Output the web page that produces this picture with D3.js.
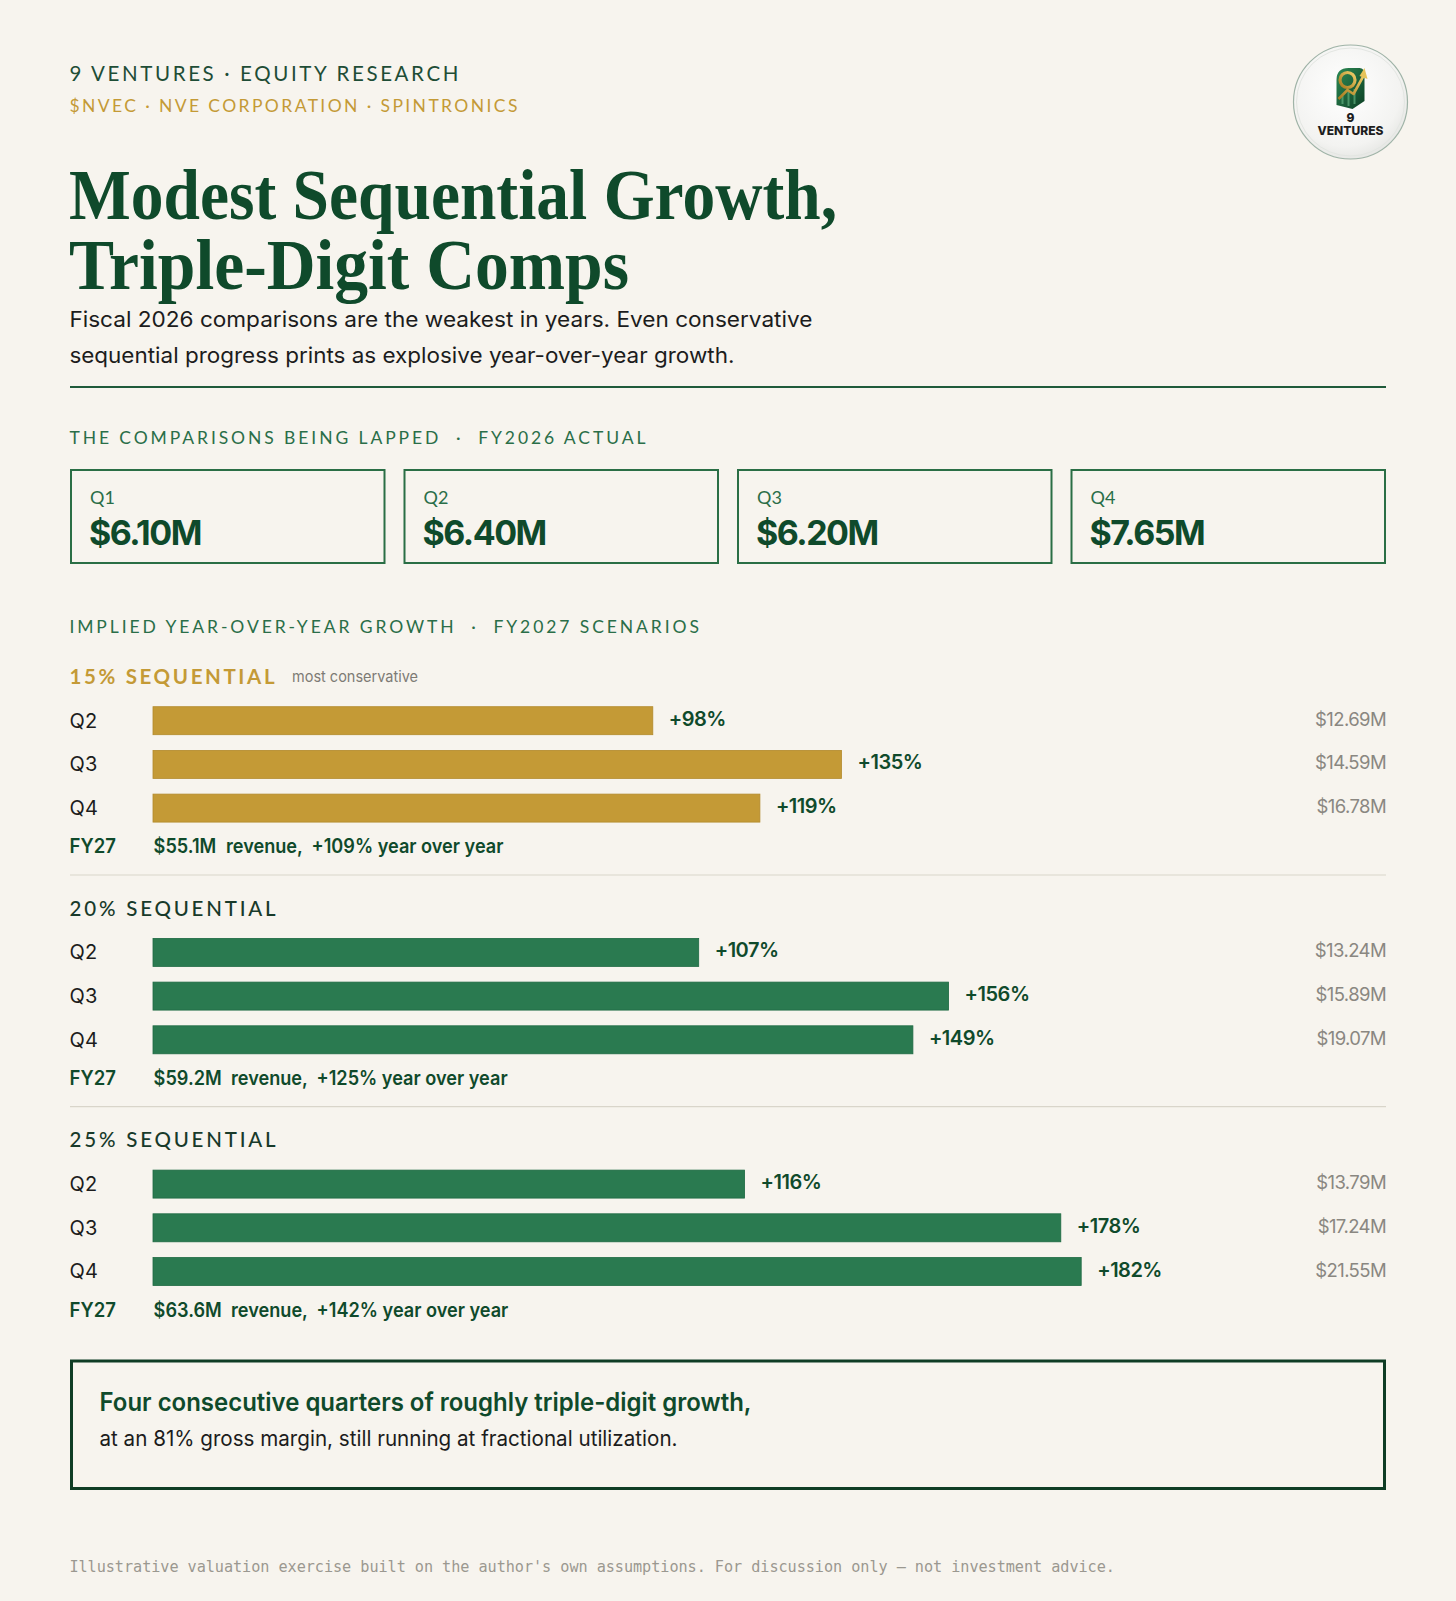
<!DOCTYPE html>
<html lang="en">
<head>
  <meta charset="UTF-8" />
  <title>Modest Sequential Growth, Triple-Digit Comps</title>
  <script src="https://d3js.org/d3.v7.min.js"></script>
  <style>
    html, body { margin: 0; padding: 0; background: #f7f4ee; }
    svg { display: block; }
  </style>
</head>
<body>
  <script>
    // FY2026 actual quarters
    const fy26Quarters = ["Q1", "Q2", "Q3", "Q4"];
    const fy26Revenue = [6.10, 6.40, 6.20, 7.65];

    // FY2027 scenarios
    const scenarioNames = ["15% SEQUENTIAL", "20% SEQUENTIAL", "25% SEQUENTIAL"];
    const quarters = ["Q2", "Q3", "Q4"];
    const growth15 = [98, 135, 119];
    const growth20 = [107, 156, 149];
    const growth25 = [116, 178, 182];
    const revenue15 = [12.69, 14.59, 16.78];
    const revenue20 = [13.24, 15.89, 19.07];
    const revenue25 = [13.79, 17.24, 21.55];
    const fyRevenue = [55.1, 59.2, 63.6];
    const fyGrowth = [109, 125, 142];

    const W = 1456, H = 1601;
    const L = 70, R = 1386;

    const SANS = "Inter, 'Noto Sans', sans-serif";
    const CAPS = "Lato, 'Noto Sans', sans-serif";
    const SERIF = "'Liberation Serif', 'DejaVu Serif', serif";
    const MONO = "'DejaVu Sans Mono', 'Liberation Mono', monospace";

    const DARK = "#0f4a2b", MID = "#2a6e48", GOLD = "#c49a36", BARGREEN = "#2a7a50";
    const SEP = "\u00a0\u00a0·\u00a0\u00a0";

    const svg = d3.select("body").append("svg").attr("width", W).attr("height", H);
    svg.append("rect").attr("width", W).attr("height", H).attr("fill", "#f7f4ee");

    // text helper: width => stretch to that width, k => squeeze to a condensed look
    function label(x, y, s, o) {
      const t = svg.append("text").attr("x", x).attr("y", y).text(s)
        .attr("font-family", o.f).attr("font-size", o.s)
        .attr("font-weight", o.w || 400).attr("fill", o.c)
        .attr("text-anchor", o.a || "start");
      if (o.width) {
        t.attr("textLength", o.width).attr("lengthAdjust", o.adj || "spacing");
      } else if (o.k) {
        const n = t.node().getComputedTextLength();
        t.attr("textLength", n * o.k).attr("lengthAdjust", "spacingAndGlyphs");
      }
      return t;
    }

    // header
    label(69.4, 80.7, "9 VENTURES · EQUITY RESEARCH", { f: CAPS, s: 20.5, c: "#1e4d36", width: 389 });
    label(69.4, 111.7, "$NVEC · NVE CORPORATION · SPINTRONICS", { f: CAPS, s: 17.5, c: GOLD, width: 448 });

    // two-line title as one text block
    const title = svg.append("text")
      .attr("font-family", SERIF).attr("font-size", 71).attr("font-weight", 700).attr("fill", DARK);
    [["Modest Sequential Growth,", 219, 768], ["Triple-Digit Comps", 289, 560]].forEach(([s, yy, w]) => {
      title.append("tspan").attr("x", 69).attr("y", yy).text(s)
        .attr("textLength", w).attr("lengthAdjust", "spacingAndGlyphs");
    });

    label(69.4, 327, "Fiscal 2026 comparisons are the weakest in years. Even conservative", { f: SANS, s: 21.5, c: "#1c1c1c", width: 743, adj: "spacingAndGlyphs" });
    label(69.4, 363, "sequential progress prints as explosive year-over-year growth.", { f: SANS, s: 21.5, c: "#1c1c1c", width: 665, adj: "spacingAndGlyphs" });

    svg.append("line").attr("x1", L).attr("x2", R).attr("y1", 387).attr("y2", 387)
      .attr("stroke", "#1f5a3a").attr("stroke-width", 2);

    // FY2026 cards
    label(69.4, 444.3, "THE COMPARISONS BEING LAPPED" + SEP + "FY2026 ACTUAL", { f: CAPS, s: 17.5, c: MID, width: 576 });

    const cardX = d3.scaleBand().domain(fy26Quarters).range([L, R]).paddingInner(18 / 333.5);
    const cards = svg.append("g").selectAll("g").data(fy26Quarters).join("g")
      .attr("transform", d => `translate(${cardX(d)},469)`);
    cards.append("rect").attr("x", 1).attr("y", 1)
      .attr("width", cardX.bandwidth() - 2).attr("height", 93)
      .attr("fill", "none").attr("stroke", "#2a6e45").attr("stroke-width", 2);
    cards.append("text").attr("x", 20).attr("y", 35).text(d => d)
      .attr("font-family", CAPS).attr("font-size", 18).attr("fill", MID);
    cards.append("text").attr("x", 19).attr("y", 76)
      .text((d, i) => "$" + d3.format(".2f")(fy26Revenue[i]) + "M")
      .attr("font-family", SANS).attr("font-size", 34).attr("font-weight", 700)
      .attr("fill", DARK).attr("letter-spacing", -1.5);

    // scenarios
    label(69.4, 632.7, "IMPLIED YEAR-OVER-YEAR GROWTH" + SEP + "FY2027 SCENARIOS", { f: CAPS, s: 17.5, c: MID, width: 629.5 });

    const x = d3.scaleLinear().domain([0, 200]).range([153, 1173]);
    const growth = [growth15, growth20, growth25];
    const revenue = [revenue15, revenue20, revenue25];
    const barColor = [GOLD, BARGREEN, BARGREEN];
    const barEdge = ["#b38a2c", "#1f6a43", "#1f6a43"];
    const money = v => "$" + d3.format(".2f")(v) + "M";

    scenarioNames.forEach((name, si) => {
      const hy = 684 + si * 231.7;
      if (si === 0) {
        label(69.6, hy, name, { f: CAPS, s: 20.5, w: 700, c: GOLD, width: 205 });
        label(292, hy - 2, "most conservative", { f: SANS, s: 15, c: "#7d7b75", width: 126, adj: "spacingAndGlyphs" });
      } else {
        label(69.6, hy, name, { f: CAPS, s: 20.5, w: 500, c: "#183a2a", width: 206 });
      }

      const y = d3.scaleBand().domain(quarters)
        .range([hy + 22.7, hy + 22.7 + 3 * 43.7 - 15.7])
        .paddingInner(15.7 / 43.7).paddingOuter(0);

      const rows = quarters.map((q, i) => ({ q, g: growth[si][i], rev: revenue[si][i] }));
      const g = svg.append("g");

      g.selectAll("text.q").data(rows).join("text").attr("class", "q")
        .attr("x", 69.6).attr("y", d => y(d.q) + 20.8).text(d => d.q)
        .attr("font-family", SANS).attr("font-size", 20).attr("fill", "#1c1c1c");

      g.selectAll("rect").data(rows).join("rect")
        .attr("x", x(0)).attr("y", d => y(d.q))
        .attr("width", d => x(d.g) - x(0)).attr("height", y.bandwidth())
        .attr("fill", barColor[si]).attr("stroke", barEdge[si]).attr("stroke-width", 0.8);

      g.selectAll("text.pct").data(rows).join("text").attr("class", "pct")
        .attr("x", d => x(d.g) + 16).attr("y", d => y(d.q) + 19).text(d => "+" + d.g + "%")
        .attr("font-family", SANS).attr("font-size", 20).attr("font-weight", 600)
        .attr("fill", DARK).attr("letter-spacing", -0.5);

      g.selectAll("text.rev").data(rows).join("text").attr("class", "rev")
        .attr("x", R).attr("y", d => y(d.q) + 19).attr("text-anchor", "end")
        .text(d => money(d.rev))
        .attr("font-family", SANS).attr("font-size", 18.5).attr("fill", "#8a8781")
        .attr("letter-spacing", -0.6);

      // FY27 summary line
      const fy = hy + 169.3;
      label(69.6, fy, "FY27", { f: SANS, s: 19.5, w: 600, c: DARK, k: 0.95 });
      const parts = ["$" + fyRevenue[si] + "M", "revenue,", "+" + fyGrowth[si] + "% year over year"];
      let cx = 153.6;
      parts.forEach(p => {
        const t = label(cx, fy, p, { f: SANS, s: 19.5, w: 600, c: DARK, k: 0.93 });
        cx += t.node().getComputedTextLength() * 0.93 + 14;
      });

      if (si < 2) {
        svg.append("line").attr("x1", L).attr("x2", R)
          .attr("y1", hy + 191).attr("y2", hy + 191)
          .attr("stroke", "#d9d5ca").attr("stroke-width", 1.2);
      }
    });

    // callout
    svg.append("rect").attr("x", 71.5).attr("y", 1361).attr("width", 1313).attr("height", 127.5)
      .attr("fill", "none").attr("stroke", "#0f3d25").attr("stroke-width", 3);
    label(99.5, 1410.7, "Four consecutive quarters of roughly triple-digit growth,", { f: SANS, s: 25, w: 600, c: DARK, width: 652, adj: "spacingAndGlyphs" });
    label(99.5, 1446, "at an 81% gross margin, still running at fractional utilization.", { f: SANS, s: 21, c: "#1c1c1c", width: 578, adj: "spacingAndGlyphs" });

    // footer
    label(69.4, 1572, "Illustrative valuation exercise built on the author's own assumptions. For discussion only — not investment advice.",
      { f: MONO, s: 15.2, c: "#9b9890", width: 1045.5 });

    // logo
    const defs = svg.append("defs");
    const rg = defs.append("radialGradient").attr("id", "disc").attr("cx", "45%").attr("cy", "40%").attr("r", "65%");
    rg.append("stop").attr("offset", "0%").attr("stop-color", "#ffffff");
    rg.append("stop").attr("offset", "75%").attr("stop-color", "#f3f3f1");
    rg.append("stop").attr("offset", "100%").attr("stop-color", "#e2e3e0");
    const sg = defs.append("linearGradient").attr("id", "shield").attr("x1", 0).attr("y1", 0).attr("x2", 1).attr("y2", 1);
    sg.append("stop").attr("offset", "0%").attr("stop-color", "#2d8a55");
    sg.append("stop").attr("offset", "100%").attr("stop-color", "#0c3f24");
    const gg = defs.append("linearGradient").attr("id", "goldg").attr("x1", 0).attr("y1", 1).attr("x2", 1).attr("y2", 0);
    gg.append("stop").attr("offset", "0%").attr("stop-color", "#a77a1f");
    gg.append("stop").attr("offset", "100%").attr("stop-color", "#f0cf6a");

    const logo = svg.append("g").attr("transform", "translate(1350.5,102)");
    logo.append("circle").attr("r", 57).attr("fill", "url(#disc)").attr("stroke", "#9fb3a7").attr("stroke-width", 1.2);
    logo.append("circle").attr("r", 54).attr("fill", "none").attr("stroke", "#e3e6e2").attr("stroke-width", 1);
    logo.append("path")
      .attr("d", "M-14,-22 Q-14,-34 -2,-34 L9,-34 Q14,-34 14,-27 L14,-1 L2,7 L-14,3 Z")
      .attr("fill", "url(#shield)");
    logo.append("path").attr("d", "M-8,-6 L-8,2 M-2,-10 L-2,4 M4,-13 L4,2")
      .attr("stroke", "#5fae7e").attr("stroke-width", 2).attr("fill", "none").attr("opacity", 0.7);
    logo.append("circle").attr("cx", -3).attr("cy", -22).attr("r", 7.5)
      .attr("fill", "none").attr("stroke", "url(#goldg)").attr("stroke-width", 3.2);
    logo.append("path").attr("d", "M-12,-3 L-3,-12 L3,-8 L14,-28")
      .attr("fill", "none").attr("stroke", "url(#goldg)").attr("stroke-width", 2.6).attr("stroke-linejoin", "round");
    logo.append("path").attr("d", "M14,-34 L17,-23 L9,-26 Z").attr("fill", "#e6c35a");
    logo.append("text").attr("x", 0).attr("y", 20).attr("text-anchor", "middle").text("9")
      .attr("font-family", SANS).attr("font-size", 12).attr("font-weight", 800).attr("fill", "#1d1d1d");
    logo.append("text").attr("x", -33).attr("y", 32.5).text("VENTURES")
      .attr("font-family", SANS).attr("font-size", 12).attr("font-weight", 800).attr("fill", "#1d1d1d")
      .attr("textLength", 66).attr("lengthAdjust", "spacingAndGlyphs");
  </script>
</body>
</html>
